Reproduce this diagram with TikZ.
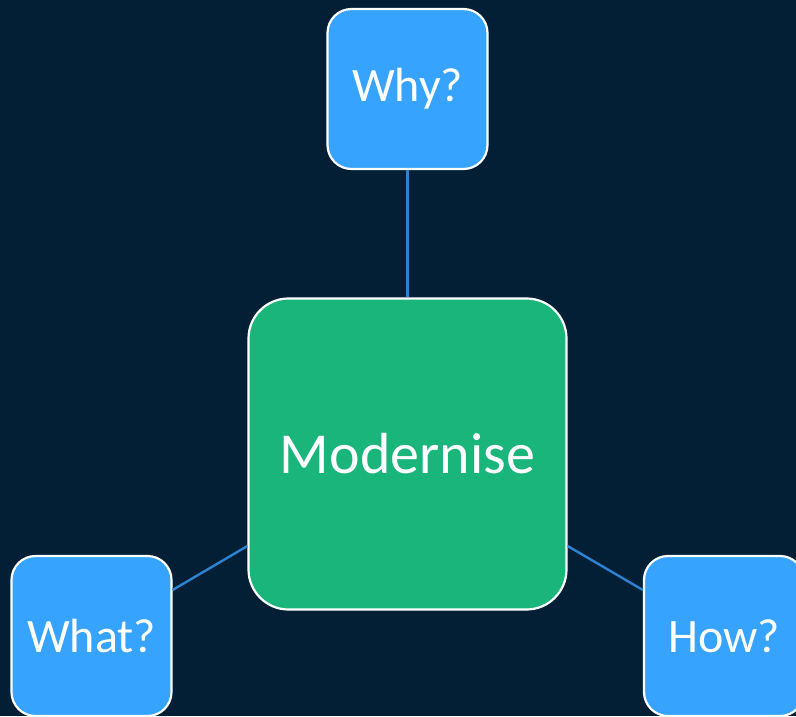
\documentclass[tikz,border=0pt]{standalone}
\usepackage{fontspec}
\setmainfont{Carlito}
\definecolor{bg}{HTML}{021F35}
\definecolor{boxblue}{HTML}{36A3FF}
\definecolor{boxgreen}{HTML}{19B57B}
\definecolor{linkblue}{HTML}{2D82D2}
\begin{document}
\begin{tikzpicture}[x=1pt,y=-1pt,
  qbox/.style={draw=white,line width=2.2pt,fill=boxblue,rounded corners=24pt,
    minimum width=160pt,minimum height=160pt,inner sep=0pt,text=white,
    font=\fontsize{48}{56}\selectfont},
  mainbox/.style={draw=white,line width=2.2pt,fill=boxgreen,rounded corners=40pt,
    minimum width=318pt,minimum height=311pt,inner sep=0pt,text=white,
    font=\fontsize{58}{68}\selectfont},
  link/.style={draw=linkblue,line width=2.4pt}]
\fill[bg] (0,0) rectangle (796,716);
\useasboundingbox (0,0) rectangle (796,716);
\node[mainbox] (m) at (407.5,454) {Modernise};
\node[qbox] (why) at (407.5,89) {Why?};
\node[qbox] (what) at (91.5,636) {What?};
\node[qbox] (how) at (724,636) {How?};
\draw[link] (why.south) -- (m.north);
\draw[link] ([yshift=-92pt]m.west) -- ([yshift=46pt]what.east);
\draw[link] ([yshift=-92pt]m.east) -- ([yshift=46pt]how.west);
\end{tikzpicture}
\end{document}
